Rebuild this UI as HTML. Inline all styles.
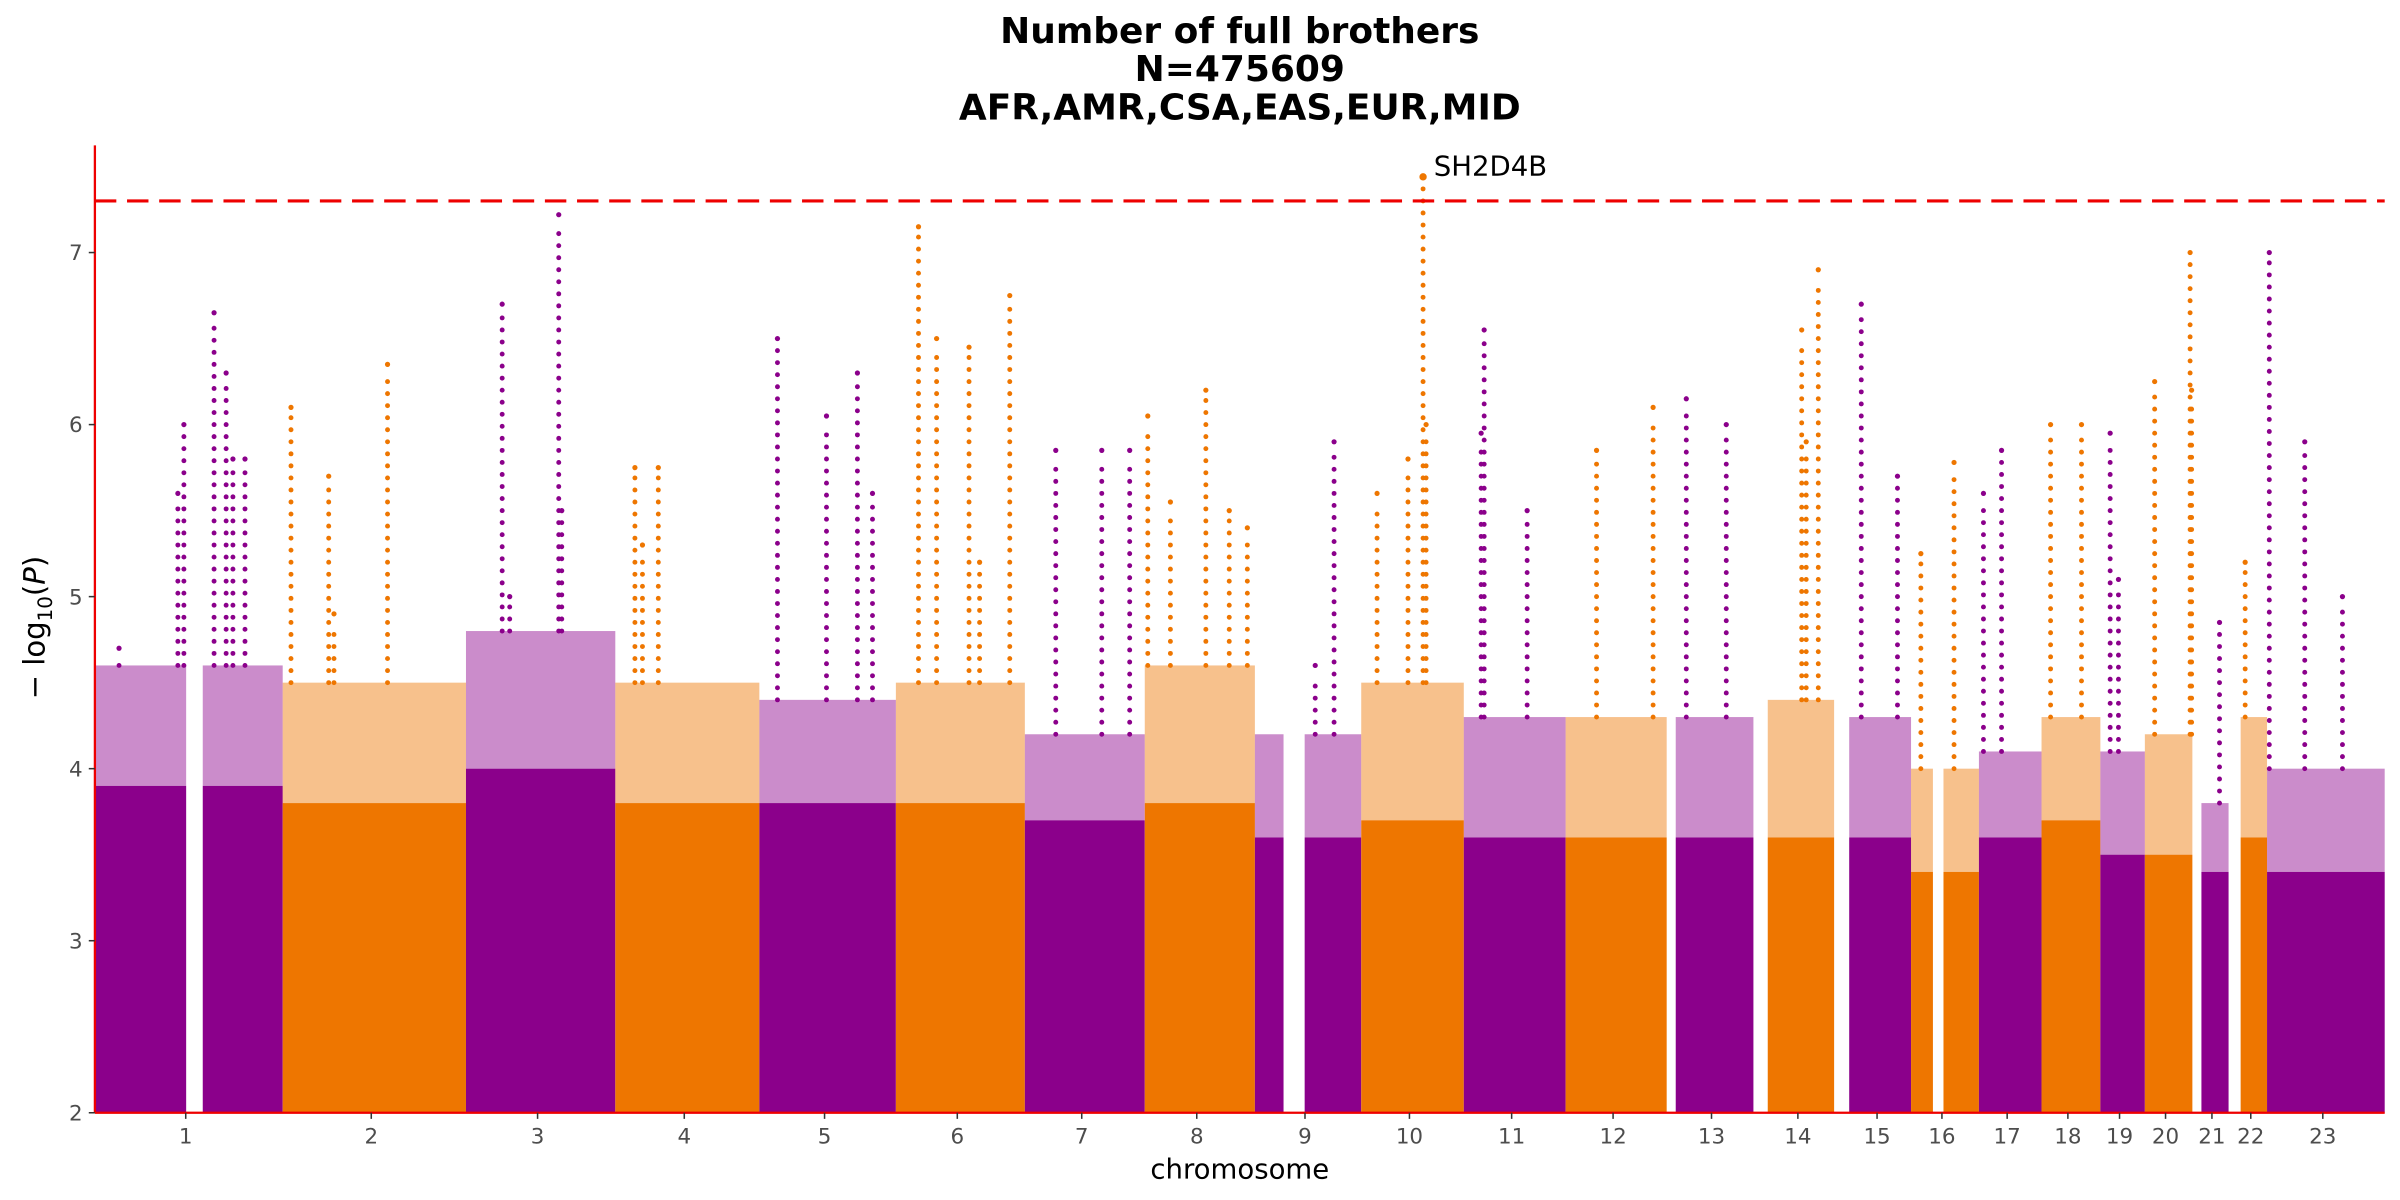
<!DOCTYPE html>
<html><head><meta charset="utf-8"><style>
html,body{margin:0;padding:0;background:#fff}
svg{display:block;font-family:"DejaVu Sans","Liberation Sans",sans-serif}
</style></head><body>
<svg id="chart" width="2400" height="1200" viewBox="0 0 1568 784" xmlns="http://www.w3.org/2000/svg">
<g id="title" font-weight="bold" font-size="23.5" text-anchor="middle" fill="#000">
<text x="810" y="28">Number of full brothers</text>
<text x="810" y="53">N=475609</text>
<text x="810" y="78">AFR,AMR,CSA,EAS,EUR,MID</text>
</g>
<g id="marks"></g>
<g id="axes"></g>
</svg>
<script>
const chromLengths=[249,243,198,191,181,171,159,146,141,136,135,134,115,107,102,90,83,78,59,63,48,51,156];
const chromGaps=[[121,143],null,null,null,null,null,null,null,[38,66],null,null,null,[0,12],[0,19],[0,20],[29,43],null,null,null,null,[0,12],[0,16],null];
const bandTop=[3.9,3.8,4.0,3.8,3.8,3.8,3.7,3.8,3.6,3.7,3.6,3.6,3.6,3.6,3.6,3.4,3.6,3.7,3.5,3.5,3.4,3.6,3.4];
const sparseTop=[4.6,4.5,4.8,4.5,4.4,4.5,4.2,4.6,4.2,4.5,4.3,4.3,4.3,4.4,4.3,4.0,4.1,4.3,4.1,4.2,3.8,4.3,4.0];
const peakChrom=[1,1,1,1,1,1,1,2,2,2,2,3,3,3,3,4,4,4,5,5,5,5,6,6,6,6,6,7,7,7,8,8,8,8,8,9,9,10,10,10,10,11,11,11,12,12,13,13,14,14,14,15,15,16,16,17,17,18,18,19,19,20,20,20,21,22,23,23,23];
const peakPos=[32,110,118,158,174,183,199,11,61,139,68,48,123,127,58,26,57,36,24,89,130,150,30,54,97,151,111,41,102,139,4,34,81,112,136,105,80,82,62,21,86,27,23,84,41,116,26,79,64,86,70,36,84,13,57,6,30,12,53,13,24,13,60,62,36,22,3,50,100];
const peakVal=[4.7,5.6,6.0,6.65,6.3,5.8,5.8,6.1,5.7,6.35,4.9,6.7,7.22,5.5,5.0,5.75,5.75,5.3,6.5,6.05,6.3,5.6,7.15,6.5,6.45,6.75,5.2,5.85,5.85,5.85,6.05,5.55,6.2,5.5,5.4,5.9,4.6,7.44,5.8,5.6,6.0,6.55,5.95,5.5,5.85,6.1,6.15,6.0,6.55,6.9,5.9,6.7,5.7,5.25,5.78,5.6,5.85,6.0,6.0,5.95,5.1,6.25,7.0,6.2,4.85,5.2,7.0,5.9,5.0];
const yTicks=[2,3,4,5,6,7];
const threshold=7.3;
const leadLabel="SH2D4B";

const NS="http://www.w3.org/2000/svg";
const colors=["#8B008B","#EE7600"];
const X0=62,X1=1558,Y0=727;
const total=chromLengths.reduce((a,b)=>a+b,0);
const starts=[];let acc=0;chromLengths.forEach(l=>{starts.push(acc);acc+=l;});
const xs=(c,p)=>X0+(starts[c]+p)/total*(X1-X0);
const ys=v=>Y0-(v-2)*112.4;
function mk(tag,attrs,parent){const e=document.createElementNS(NS,tag);for(const k in attrs)e.setAttribute(k,attrs[k]);parent.appendChild(e);return e;}
const marks=document.getElementById('marks');
chromLengths.forEach((len,c)=>{
  const g=mk('g',{fill:colors[c%2]},marks);
  
  
  const segs=chromGaps[c]?[[0,chromGaps[c][0]],[chromGaps[c][1],len]]:[[0,len]];
  segs.forEach(s=>{
    if(s[1]-s[0]<=0)return;
    const xa=xs(c,s[0]),xb=xs(c,s[1]);
    const r1=mk('rect',{x:xa,y:ys(bandTop[c]),width:xb-xa,height:Y0-ys(bandTop[c])},g);
    
    
    const r2=mk('rect',{x:xa,y:ys(sparseTop[c]),width:xb-xa,height:ys(bandTop[c])-ys(sparseTop[c]),opacity:0.45},g);
    
    
  });
});
peakChrom.forEach((ch,i)=>{
  const c=ch-1,v=peakVal[i],x=xs(c,peakPos[i]);
  const g=mk('g',{fill:colors[c%2]},marks);
  
  
  const base=sparseTop[c];
  for(let t=base;t<v-0.05;t+=0.07){
    const d=mk('circle',{cx:x,cy:ys(t),r:1.6},g);
    
    
  }
  const top=mk('circle',{cx:x,cy:ys(v),r:v>threshold?2.4:1.7},g);
  
  
  if(v>threshold){
    const t=mk('text',{x:x+7,y:ys(v)-1,'font-size':18,fill:'#000'},marks);
    t.textContent=leadLabel;
    
    
  }
});
const axes=document.getElementById('axes');
const th=mk('line',{x1:X0,x2:X1,y1:ys(threshold),y2:ys(threshold),stroke:'#EE0000','stroke-width':2,'stroke-dasharray':'14,7'},axes);


const ya=mk('line',{x1:X0,x2:X0,y1:95,y2:Y0,stroke:'#EE0000','stroke-width':1.5},axes);


const xa=mk('line',{x1:X0,x2:X1,y1:Y0,y2:Y0,stroke:'#EE0000','stroke-width':1.5},axes);


yTicks.forEach(v=>{
  const tk=mk('line',{x1:X0-4,x2:X0,y1:ys(v),y2:ys(v),stroke:'#333','stroke-width':1},axes);
  
  
  const t=mk('text',{x:X0-8,y:ys(v)+5,'font-size':14,fill:'#4d4d4d','text-anchor':'end'},axes);
  t.textContent=v;
  
  
});
chromLengths.forEach((len,c)=>{
  const s=chromGaps[c]&&chromGaps[c][0]===0?chromGaps[c][1]:0;
  const x=xs(c,(s+len)/2)-2;
  const tk=mk('line',{x1:x,x2:x,y1:Y0,y2:Y0+4,stroke:'#333','stroke-width':1},axes);
  
  
  const t=mk('text',{x:x,y:Y0+20,'font-size':14,fill:'#4d4d4d','text-anchor':'middle'},axes);
  t.textContent=c+1;
  
  
});
const xt=mk('text',{x:810,y:770,'font-size':18,fill:'#000','text-anchor':'middle'},axes);
xt.textContent='chromosome';


const yt=mk('text',{x:0,y:0,'font-size':19,fill:'#000','text-anchor':'middle',transform:'translate(29,410) rotate(-90)'},axes);
yt.innerHTML='− log<tspan font-size="13" dy="5">10</tspan><tspan dy="-5">(</tspan><tspan font-style="italic">P</tspan>)';


</script>
</body></html>
